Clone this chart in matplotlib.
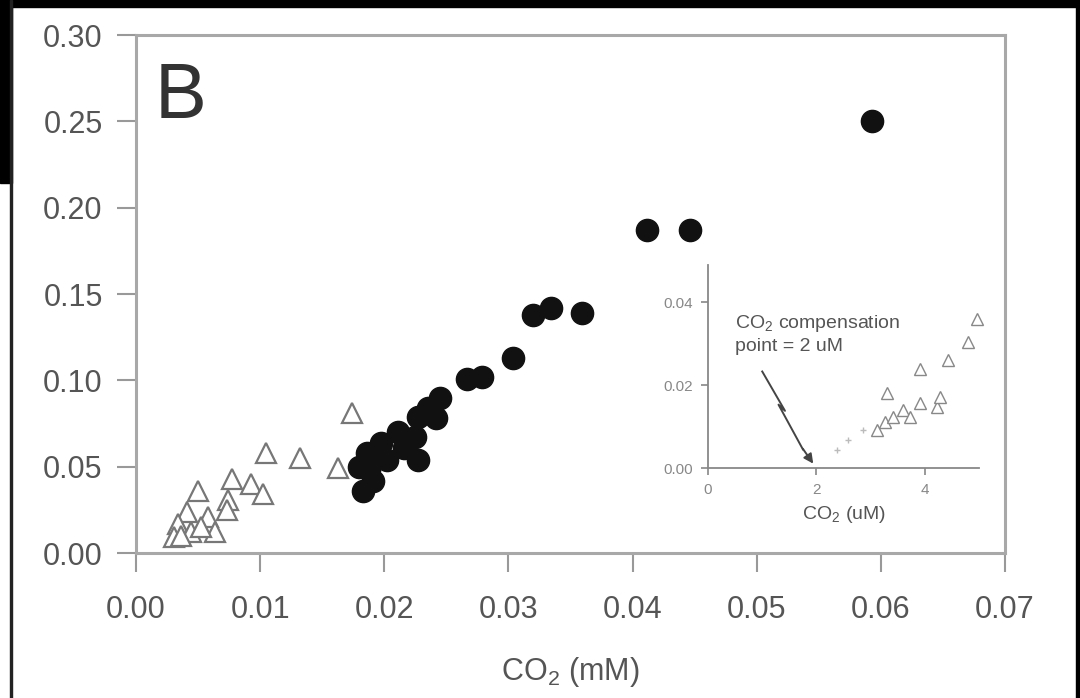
import numpy as np
import matplotlib
matplotlib.use("Agg")
import matplotlib.pyplot as plt
from matplotlib.patches import Rectangle

plt.rcParams['font.family'] = ['Liberation Sans', 'DejaVu Sans']

# main panel: open triangles
tri_x = [0.0174, 0.0105, 0.0132, 0.0163, 0.0077, 0.0093, 0.0102, 0.0050, 0.0074,
         0.0073, 0.0058, 0.0041, 0.0034, 0.0064, 0.0031, 0.0044, 0.0052, 0.0036]
tri_y = [0.081, 0.058, 0.055, 0.049, 0.043, 0.040, 0.034, 0.036, 0.031,
         0.025, 0.021, 0.024, 0.017, 0.012, 0.009, 0.012, 0.015, 0.010]

# main panel: filled circles
dot_x = [0.0593, 0.0412, 0.0446, 0.0320, 0.0334, 0.0359, 0.0304, 0.0267, 0.0279,
         0.0245, 0.0235, 0.0242, 0.0227, 0.0211, 0.0225, 0.0227, 0.0197, 0.0186,
         0.0202, 0.0180, 0.0188, 0.0191, 0.0183, 0.0216]
dot_y = [0.250, 0.187, 0.187, 0.138, 0.142, 0.139, 0.113, 0.101, 0.102,
         0.090, 0.084, 0.078, 0.079, 0.070, 0.067, 0.054, 0.064, 0.058,
         0.054, 0.050, 0.048, 0.042, 0.036, 0.061]

# inset (uM)
in_tri_x = [3.11, 3.27, 3.30, 3.41, 3.60, 3.72, 3.91, 3.91, 4.22, 4.28, 4.42, 4.80, 4.96]
in_tri_y = [0.0092, 0.011, 0.018, 0.0124, 0.014, 0.0124, 0.0158, 0.0238, 0.0148,
            0.0172, 0.026, 0.0303, 0.036]
in_pt_x = [2.38, 2.58, 2.86]
in_pt_y = [0.0044, 0.0068, 0.0092]

fig = plt.figure(figsize=(10.8, 6.98), dpi=100)

# screenshot borders
fig.patches.append(Rectangle((0, 1 - 7 / 698), 1, 7 / 698, transform=fig.transFigure,
                             color='black', zorder=0))
fig.patches.append(Rectangle((0, 1 - 183 / 698), 12 / 1080, 183 / 698,
                             transform=fig.transFigure, color='black', zorder=0))
fig.patches.append(Rectangle((10 / 1080, 0), 2 / 1080, 1, transform=fig.transFigure,
                             color='#222222', zorder=0))
fig.patches.append(Rectangle((1 - 4 / 1080, 0), 4 / 1080, 1, transform=fig.transFigure,
                             color='black', zorder=0))

ax = fig.add_axes([0.1259, 0.2077, 0.8046, 0.7421])
ax.plot(tri_x, tri_y, linestyle='none', marker='^', markersize=15,
        markerfacecolor='white', markeredgecolor='#777777', markeredgewidth=1.6)
ax.plot(dot_x, dot_y, linestyle='none', marker='o', markersize=16,
        markerfacecolor='#111111', markeredgecolor='#111111')

ax.set_xlim(0, 0.07)
ax.set_ylim(0, 0.30)
ax.set_xticks(np.arange(0, 0.0701, 0.01))
ax.set_yticks(np.arange(0, 0.301, 0.05))
ax.set_xticklabels(['%.2f' % v for v in np.arange(0, 0.0701, 0.01)])
ax.set_yticklabels(['%.2f' % v for v in np.arange(0, 0.301, 0.05)])
for s in ax.spines.values():
    s.set_color('#a8a8a8')
    s.set_linewidth(2.2)
ax.tick_params(direction='out', length=14, width=1.5, color='#999999',
               labelsize=22, labelcolor='#555555', pad=10)
ax.tick_params(axis='x', pad=16)
ax.set_xlabel(r'CO$_\mathregular{2}$ (mM)', fontsize=22, color='#555555', labelpad=22)
ax.text(0.021, 0.84, 'B', transform=ax.transAxes, fontsize=56, color='#333333',
        va='baseline', ha='left')

# inset
ins = fig.add_axes([0.6556, 0.3295, 0.2509, 0.2908])
ins.patch.set_alpha(0)
ins.plot(in_tri_x, in_tri_y, linestyle='none', marker='^', markersize=8,
         markerfacecolor='white', markeredgecolor='#888888', markeredgewidth=1.0,
         clip_on=False)
ins.plot(in_pt_x, in_pt_y, linestyle='none', marker='+', markersize=4,
         color='#bbbbbb')
ins.set_xlim(0, 5)
ins.set_ylim(0, 0.049)
ins.set_xticks([0, 2, 4])
ins.set_yticks([0, 0.02, 0.04])
ins.set_yticklabels(['0.00', '0.02', '0.04'])
ins.spines['top'].set_visible(False)
ins.spines['right'].set_visible(False)
for s in ['left', 'bottom']:
    ins.spines[s].set_color('#888888')
    ins.spines[s].set_linewidth(1.3)
ins.tick_params(direction='out', length=5, width=1.2, color='#888888',
                labelsize=11, labelcolor='#888888', pad=6)
ins.set_xlabel(r'CO$_\mathregular{2}$ (uM)', fontsize=14, color='#555555', labelpad=5)

ins.text(0.5, 0.0375, 'CO$_\\mathregular{2}$ compensation\npoint = 2 uM', fontsize=14,
         color='#555555', va='top', ha='left', linespacing=1.3)
# lightning-style arrow to the compensation point
ins.plot([1.0, 1.42, 1.30, 1.75], [0.0233, 0.0138, 0.0153, 0.0045],
         color='#444444', lw=1.4)
ins.annotate('', xy=(1.97, 0.0005), xytext=(1.72, 0.0052),
             arrowprops=dict(arrowstyle='-|>', color='#444444', lw=1.4,
                             mutation_scale=14))

fig.savefig('out.png', dpi=100)
